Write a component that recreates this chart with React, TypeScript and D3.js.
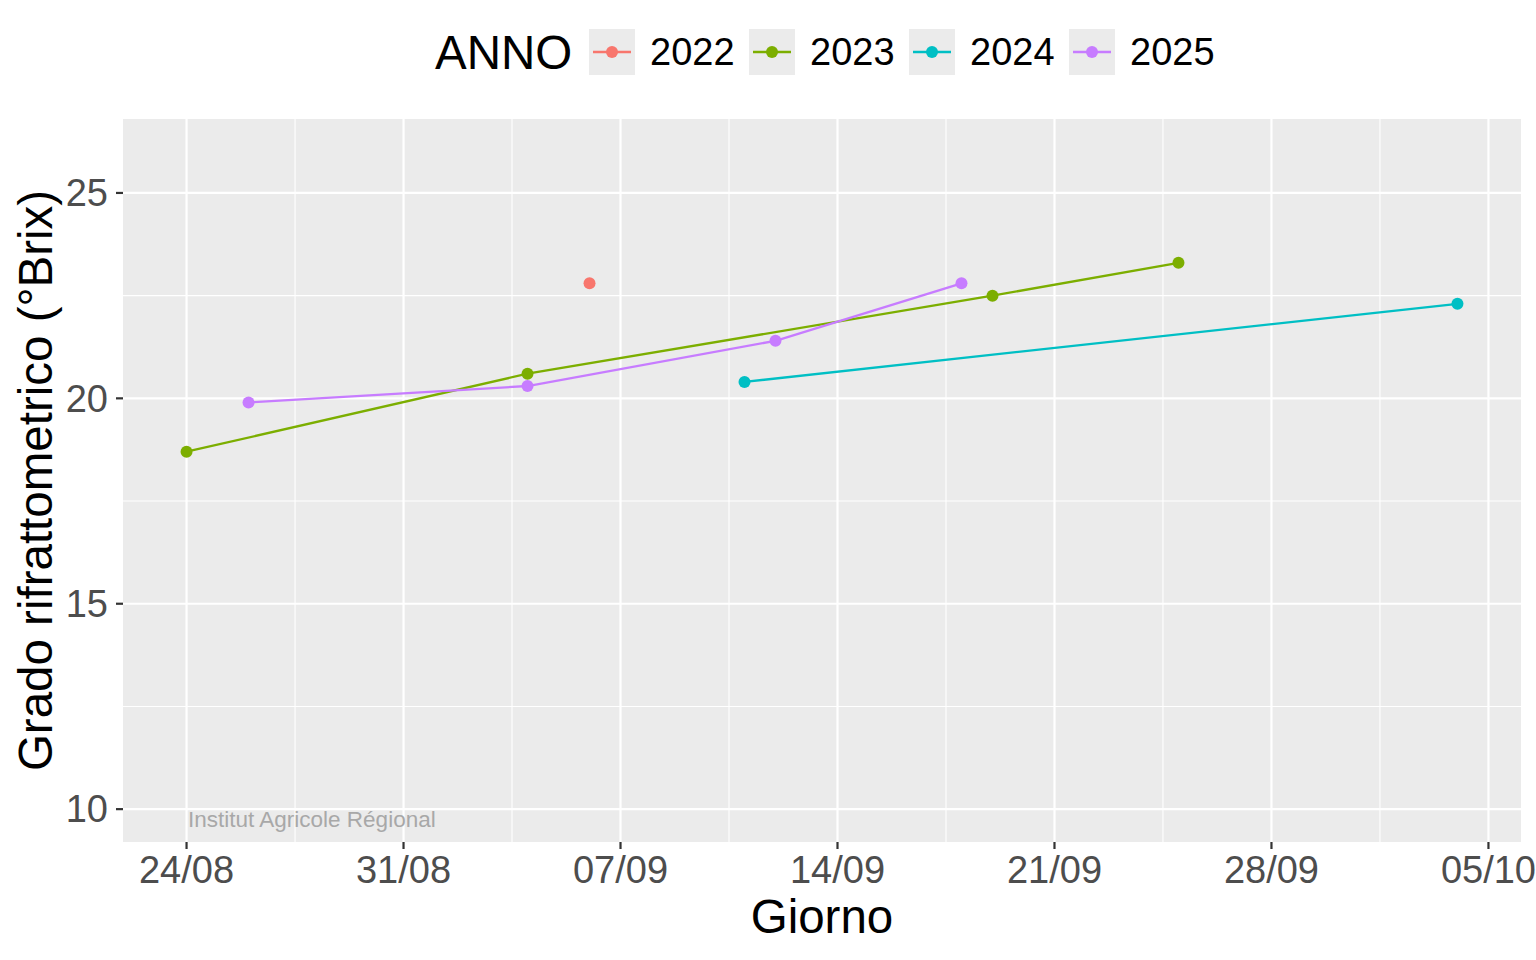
import * as d3 from 'd3';

// Vendemmia: grado rifrattometrico per anno
const years = ['2022', '2023', '2024', '2025'];
const yearColors = ['#F8766D', '#7CAE00', '#00BFC4', '#C77CFF'];

const days2022 = ['06/09'];
const brix2022 = [22.8];
const days2023 = ['24/08', '04/09', '19/09', '25/09'];
const brix2023 = [18.7, 20.6, 22.5, 23.3];
const days2024 = ['11/09', '04/10'];
const brix2024 = [20.4, 22.3];
const days2025 = ['26/08', '04/09', '12/09', '18/09'];
const brix2025 = [19.9, 20.3, 21.4, 22.8];

const xTickLabels = ['24/08', '31/08', '07/09', '14/09', '21/09', '28/09', '05/10'];
const yTicks = [10, 15, 20, 25];
const yLimits = [10, 26];

const W = 1536;
const H = 960;
const panel = { left: 123, right: 1521, top: 119, bottom: 842 };
const FONT = '"Liberation Sans", Arial, Helvetica, sans-serif';

const parseDay = d3.utcParse('%d/%m/%Y');
const toDate = (s: string) => parseDay(s + '/2023') as Date;
const DAY = 86400000;

type Pt = { date: Date; brix: number };
const series = [
  [days2022, brix2022],
  [days2023, brix2023],
  [days2024, brix2024],
  [days2025, brix2025],
].map(([days, vals]) =>
  (days as string[]).map((d, i) => ({ date: toDate(d), brix: (vals as number[])[i] })),
);

const allDates = series.flat().map(p => p.date.getTime());
const [dMin, dMax] = d3.extent(allDates) as [number, number];
const xPad = (dMax - dMin) * 0.05;
const yPad = (yLimits[1] - yLimits[0]) * 0.05;

const x = d3
  .scaleUtc()
  .domain([new Date(dMin - xPad), new Date(dMax + xPad)])
  .range([panel.left, panel.right]);
const y = d3
  .scaleLinear()
  .domain([yLimits[0] - yPad, yLimits[1] + yPad])
  .range([panel.bottom, panel.top]);

const xMajor = xTickLabels.map(toDate);
const xMinor = xMajor
  .slice(0, -1)
  .map(d => new Date(d.getTime() + 3.5 * DAY))
  .filter(d => d >= x.domain()[0] && d <= x.domain()[1]);
const yMinor = yTicks
  .map(v => v + 2.5)
  .filter(v => v >= y.domain()[0] && v <= y.domain()[1]);

const line = d3
  .line<Pt>()
  .x(d => x(d.date))
  .y(d => y(d.brix));

export default function App() {
  const legendKeyX = years.map((_, i) => 589 + i * 160);
  return (
    <svg
      width={W}
      height={H}
      style={{ position: 'absolute', left: 0, top: 0, background: '#fff' }}
      fontFamily={FONT}
    >
      {/* panel */}
      <rect
        x={panel.left}
        y={panel.top}
        width={panel.right - panel.left}
        height={panel.bottom - panel.top}
        fill="#EBEBEB"
      />
      {xMinor.map((d, i) => (
        <line key={'xm' + i} x1={x(d)} x2={x(d)} y1={panel.top} y2={panel.bottom} stroke="#fff" strokeWidth={1.1} />
      ))}
      {yMinor.map((v, i) => (
        <line key={'ym' + i} x1={panel.left} x2={panel.right} y1={y(v)} y2={y(v)} stroke="#fff" strokeWidth={1.1} />
      ))}
      {xMajor.map((d, i) => (
        <line key={'xM' + i} x1={x(d)} x2={x(d)} y1={panel.top} y2={panel.bottom} stroke="#fff" strokeWidth={2.2} />
      ))}
      {yTicks.map((v, i) => (
        <line key={'yM' + i} x1={panel.left} x2={panel.right} y1={y(v)} y2={y(v)} stroke="#fff" strokeWidth={2.2} />
      ))}

      {/* watermark */}
      <text x={x(xMajor[0]) + 1.5} y={y(yLimits[0]) + 18} fontSize={22.5} fill="#A8A8A8">
        Institut Agricole Régional
      </text>

      {/* series */}
      {series.map((pts, i) => (
        <g key={years[i]}>
          {pts.length > 1 && (
            <path d={line(pts) ?? ''} fill="none" stroke={yearColors[i]} strokeWidth={2.3} />
          )}
          {pts.map((p, j) => (
            <circle key={j} cx={x(p.date)} cy={y(p.brix)} r={6} fill={yearColors[i]} />
          ))}
        </g>
      ))}

      {/* x axis */}
      {xMajor.map((d, i) => (
        <g key={'xt' + i}>
          <line x1={x(d)} x2={x(d)} y1={panel.bottom} y2={panel.bottom + 7} stroke="#333" strokeWidth={2.2} />
          <text x={x(d)} y={panel.bottom + 41} textAnchor="middle" fontSize={38} fill="#4D4D4D">
            {xTickLabels[i]}
          </text>
        </g>
      ))}
      {/* y axis */}
      {yTicks.map((v, i) => (
        <g key={'yt' + i}>
          <line x1={panel.left - 7} x2={panel.left} y1={y(v)} y2={y(v)} stroke="#333" strokeWidth={2.2} />
          <text x={panel.left - 15} y={y(v)} dy="0.35em" textAnchor="end" fontSize={38} fill="#4D4D4D">
            {v}
          </text>
        </g>
      ))}

      {/* axis titles */}
      <text x={(panel.left + panel.right) / 2} y={933} textAnchor="middle" fontSize={47.5} fill="#000">
        Giorno
      </text>
      <text
        transform={`translate(52,${(panel.top + panel.bottom) / 2}) rotate(-90)`}
        textAnchor="middle"
        fontSize={47.5}
        fill="#000"
      >
        Grado rifrattometrico (°Brix)
      </text>

      {/* legend */}
      <text x={435} y={52} dy="0.35em" fontSize={47.5} fill="#000">
        ANNO
      </text>
      {years.map((yr, i) => (
        <g key={'lg' + yr} transform={`translate(${legendKeyX[i]},29)`}>
          <rect width={46} height={46} fill="#EBEBEB" />
          <line x1={4} x2={42} y1={23} y2={23} stroke={yearColors[i]} strokeWidth={2.3} />
          <circle cx={23} cy={23} r={6} fill={yearColors[i]} />
          <text x={61} y={23} dy="0.35em" fontSize={38} fill="#000">
            {yr}
          </text>
        </g>
      ))}
    </svg>
  );
}
